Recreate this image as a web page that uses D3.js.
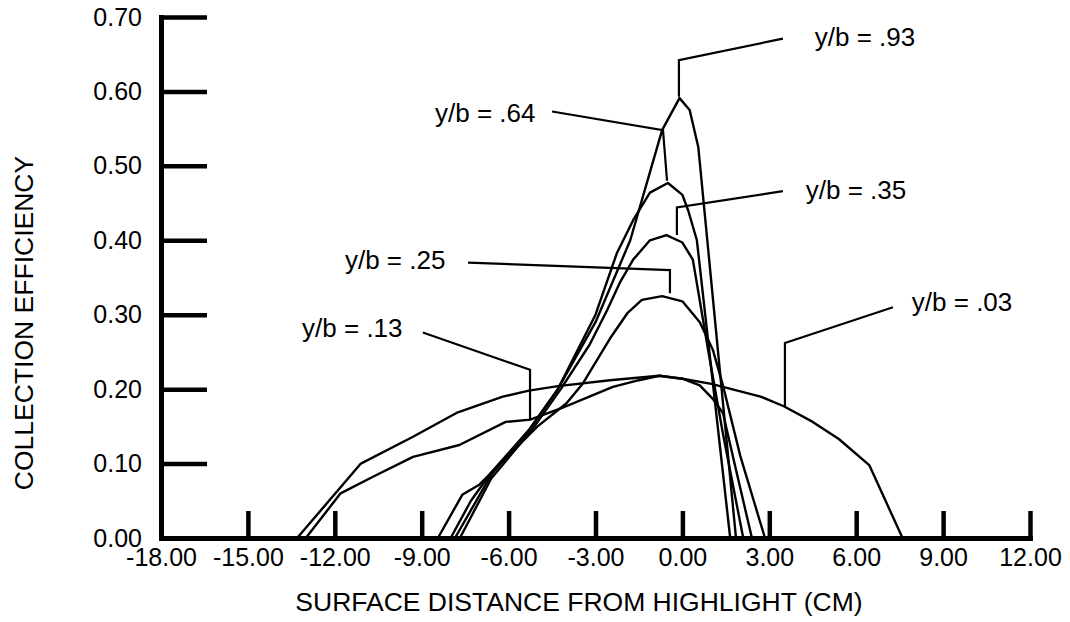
<!DOCTYPE html>
<html>
  <head>
    <meta charset="utf-8">
    <style>
      body {
        margin: 0;
        background-color: white;
      }
      text {
        font-family: "Liberation Sans", Arial, Helvetica, sans-serif;
        fill: black;
      }
    </style>
    <script src="https://d3js.org/d3.v7.min.js"></script>
  </head>
  <body>
    <script>
    var width = 1070;
    var height = 622;
    var margin = {top: 17, right: 40, bottom: 84, left: 161};

    // x ticks and y ticks
    var xTicks = [-18, -15, -12, -9, -6, -3, 0, 3, 6, 9, 12];
    var yTicks = [0, 0.1, 0.2, 0.3, 0.4, 0.5, 0.6, 0.7];

    // one array per span station, [surface distance cm, collection efficiency]
    var yb03 = [[-13.3,0],[-11.1,0.10],[-9.3,0.136],[-7.8,0.168],[-6.2,0.19],[-5.3,0.198],[-4.3,0.204],
                [-2.5,0.212],[-0.8,0.218],[0.0,0.214],[1.0,0.207],[2.0,0.197],[2.7,0.19],[3.5,0.177],
                [4.5,0.156],[5.4,0.133],[6.45,0.098],[7.6,0]];
    var yb13 = [[-13.0,0],[-11.8,0.06],[-10.7,0.082],[-9.3,0.109],[-7.7,0.125],[-6.1,0.156],[-5.25,0.159],
                [-4.2,0.174],[-3.4,0.187],[-2.4,0.203],[-1.5,0.212],[-0.8,0.218],[0.0,0.214],[0.6,0.205],
                [1.05,0.187],[1.4,0.168],[1.8,0.1],[2.4,0]];
    var yb25 = [[-8.44,0],[-7.6,0.058],[-7.0,0.072],[-5.9,0.115],[-5.0,0.15],[-4.0,0.181],[-3.43,0.208],
                [-2.95,0.239],[-2.5,0.268],[-1.9,0.302],[-1.4,0.32],[-0.7,0.325],[0.0,0.318],[0.6,0.29],
                [1.05,0.253],[1.4,0.205],[2.0,0.11],[2.85,0]];
    var yb35 = [[-7.68,0],[-6.6,0.08],[-5.2,0.145],[-4.2,0.2],[-3.2,0.26],[-2.6,0.306],[-2.16,0.343],
                [-1.7,0.374],[-1.12,0.40],[-0.55,0.407],[0.0,0.397],[0.36,0.374],[0.9,0.25],[1.4,0.14],[2.1,0]];
    var yb64 = [[-7.85,0],[-6.6,0.085],[-5.3,0.145],[-4.3,0.2],[-3.0,0.3],[-2.26,0.383],[-1.7,0.427],
                [-1.12,0.464],[-0.5,0.477],[0.0,0.461],[0.2,0.44],[0.5,0.40],[1.65,0]];
    var yb93 = [[-8.0,0],[-7.3,0.05],[-6.6,0.088],[-5.3,0.145],[-4.3,0.2],[-3.0,0.29],[-1.8,0.40],
                [-0.7,0.548],[-0.1,0.591],[0.25,0.575],[0.55,0.525],[1.85,0]];

    var series = [yb03, yb13, yb25, yb35, yb64, yb93];

    // labels with leader lines (label start, then leader polyline in data units)
    var labelText = ["y/b = .93", "y/b = .64", "y/b = .35", "y/b = .25", "y/b = .13", "y/b = .03"];
    var labelAt = [[4.57,0.673],[-8.54,0.571],[4.26,0.468],[-11.65,0.374],[-13.13,0.282],[7.92,0.317]];
    var leaders = [
      [[3.47,0.671],[-0.12,0.642],[-0.12,0.593]],
      [[-4.5,0.573],[-0.67,0.548],[-0.53,0.48]],
      [[3.47,0.466],[-0.19,0.444],[-0.19,0.407]],
      [[-7.4,0.37],[-0.43,0.36],[-0.43,0.329]],
      [[-8.96,0.276],[-5.26,0.226],[-5.26,0.159]],
      [[7.27,0.31],[3.54,0.262],[3.54,0.176]]
    ];

    var x = d3.scaleLinear()
      .domain([-18, 12])
      .range([margin.left, width - margin.right]);
    var y = d3.scaleLinear()
      .domain([0, 0.7])
      .range([height - margin.bottom, margin.top]);

    var svg = d3.select("body").append("svg")
      .attr("width", width)
      .attr("height", height);

    var line = d3.line()
      .x(function(d) { return x(d[0]); })
      .y(function(d) { return y(d[1]); });

    // curves
    svg.append("g")
      .selectAll("path")
      .data(series)
      .enter().append("path")
        .attr("d", line)
        .attr("fill", "none")
        .attr("stroke", "black")
        .attr("stroke-width", 2.4)
        .attr("stroke-linejoin", "round");

    // leaders
    svg.append("g")
      .selectAll("path")
      .data(leaders)
      .enter().append("path")
        .attr("d", line)
        .attr("fill", "none")
        .attr("stroke", "black")
        .attr("stroke-width", 2.2);

    svg.append("g")
      .selectAll("text")
      .data(labelText)
      .enter().append("text")
        .attr("x", function(d, i) { return x(labelAt[i][0]); })
        .attr("y", function(d, i) { return y(labelAt[i][1]); })
        .attr("dy", "0.35em")
        .style("font-size", "26px")
        .text(function(d) { return d; });

    var fmt = function(d) { return d.toFixed(2); };

    // axes
    svg.append("g")
      .attr("transform", "translate(0," + y(0) + ")")
      .call(d3.axisBottom(x)
        .tickValues(xTicks)
        .tickSize(-27)
        .tickSizeOuter(0)
        .tickPadding(10)
        .tickFormat(fmt));

    svg.append("g")
      .attr("transform", "translate(" + x(-18) + ",0)")
      .call(d3.axisLeft(y)
        .tickValues(yTicks)
        .tickSize(-46)
        .tickSizeOuter(0)
        .tickPadding(19)
        .tickFormat(fmt));

    svg.selectAll(".domain")
      .attr("stroke", "black")
      .attr("stroke-width", 5)
      .attr("stroke-linecap", "square");
    svg.selectAll(".tick line")
      .attr("stroke", "black")
      .attr("stroke-width", 4.5);
    svg.selectAll(".tick text")
      .style("font-size", "25px")
      .style("font-family", "\"Liberation Sans\", Arial, sans-serif")
      .attr("fill", "black");

    // axis titles
    svg.append("text")
      .attr("x", 579)
      .attr("y", 611)
      .attr("text-anchor", "middle")
      .style("font-size", "26.5px")
      .text("SURFACE DISTANCE FROM HIGHLIGHT (CM)");

    svg.append("text")
      .attr("transform", "translate(33,323) rotate(-90)")
      .attr("text-anchor", "middle")
      .style("font-size", "26.5px")
      .text("COLLECTION EFFICIENCY");
    </script>
  </body>
</html>
